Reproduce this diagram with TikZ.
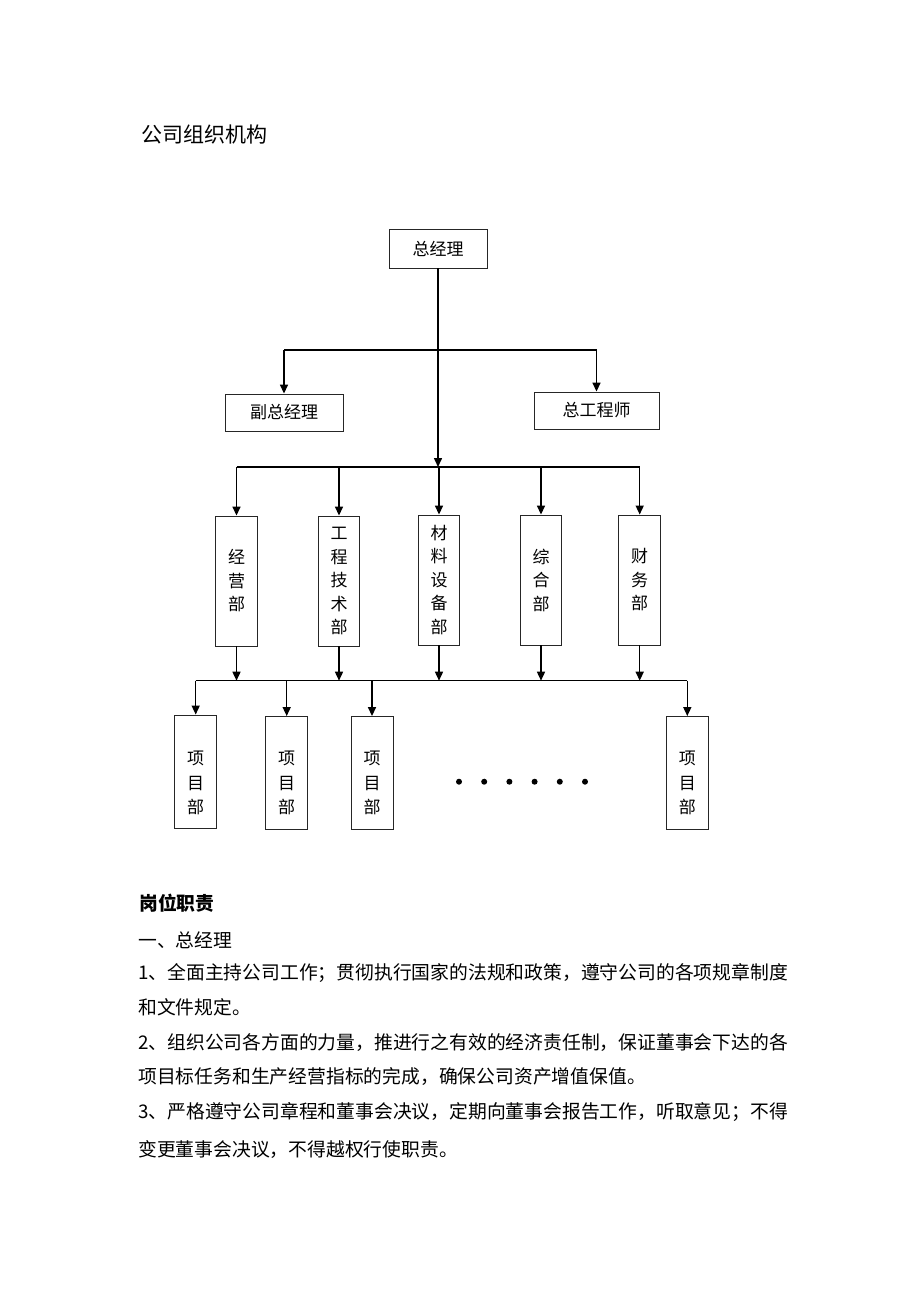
\documentclass[tikz,border=0pt]{standalone}
\usepackage{fontspec}
\setmainfont{Noto Sans CJK SC}
\usetikzlibrary{arrows.meta}
\tikzset{
  box/.style={draw=black!85, line width=0.9pt, inner sep=0pt, align=center,
    font=\fontsize{17pt}{23.5pt}\selectfont},
  dept/.style={box, minimum width=41.6pt, minimum height=130pt},
  proj/.style={box, minimum width=42pt, minimum height=113pt},
  projtext/.style={inner sep=0pt, align=center, font=\fontsize{17pt}{24.5pt}\selectfont},
  link/.style={line width=1.5pt},
  arr/.style={line width=1.5pt, -{Triangle[length=9pt,width=8pt]}},
  body/.style={anchor=west, inner sep=0pt, font=\fontsize{18.8pt}{18.8pt}\selectfont}
}
\begin{document}
\begin{tikzpicture}[x=1pt,y=-1pt]
\fill [white] (0,0) rectangle (920,1302);
\useasboundingbox (0,0) rectangle (920,1302);
\node [anchor=west, inner sep=0pt, font=\fontsize{21pt}{21pt}\selectfont] (title) at (141,135) {公司组织机构};
\node [box, minimum width=98pt, minimum height=39pt] (gm) at (438,248.5) {总经理};
\node [box, minimum width=118pt, minimum height=37pt] (vgm) at (284,412.5) {副总经理};
\node [box, minimum width=125pt, minimum height=37pt] (ce) at (596.5,410.5) {总工程师};
\node [dept] (d1) at (236.5,581) {经\\营\\部};
\node [dept] (d2) at (339,581) {工\\程\\技\\术\\部};
\node [dept] (d3) at (439,580) {材\\料\\设\\备\\部};
\node [dept] (d4) at (541,580) {综\\合\\部};
\node [dept] (d5) at (639.7,580) {财\\务\\部};
\node [proj] (p1) at (195.7,771.5) {};
\node [proj] (p2) at (286.7,773) {};
\node [proj] (p3) at (372,773) {};
\node [proj] (p4) at (687.3,773) {};
\node [projtext] (p1t) at (195.7,783) {项\\目\\部};
\node [projtext] (p2t) at (286.7,783) {项\\目\\部};
\node [projtext] (p3t) at (372,783) {项\\目\\部};
\node [projtext] (p4t) at (687.3,783) {项\\目\\部};
\foreach \i in {0,...,5}
  \fill (459+25.2*\i,781.7) circle (3);
\coordinate (j1) at (438,350);
\coordinate (j2) at (438,467);
\coordinate (j3) at (438,680.7);
\draw [arr] (gm.south) -- (gm.south |- j2);
\draw [link] (vgm.north |- j1) -- (ce.north |- j1);
\draw [arr] (vgm.north |- j1) -- (vgm.north);
\draw [arr] (ce.north |- j1) -- (ce.north);
\draw [link] (d1.north |- j2) -- (d5.north |- j2);
\foreach \n in {d1,d2,d3,d4,d5}
  \draw [arr] (\n.north |- j2) -- (\n.north);
\foreach \n in {d1,d2,d3,d4,d5}
  \draw [arr] (\n.south) -- (\n.south |- j3);
\draw [link] (p1.north |- j3) -- (p4.north |- j3);
\foreach \n in {p1,p2,p3,p4}
  \draw [arr] (\n.north |- j3) -- (\n.north);
\node [body] (h1) at (139,903) {\bfseries 岗位职责};
\node [body] (h2) at (138,940) {一、总经理};
\node [body] (l1) at (138,973) {1、全面主持公司工作；贯彻执行国家的法规和政策，遵守公司的各项规章制度};
\node [body] (l2) at (138,1007) {和文件规定。};
\node [body] (l3) at (138,1043) {2、组织公司各方面的力量，推进行之有效的经济责任制，保证董事会下达的各};
\node [body] (l4) at (138,1077) {项目标任务和生产经营指标的完成，确保公司资产增值保值。};
\node [body] (l5) at (138,1112) {3、严格遵守公司章程和董事会决议，定期向董事会报告工作，听取意见；不得};
\node [body] (l6) at (138,1150) {变更董事会决议，不得越权行使职责。};
\end{tikzpicture}
\end{document}
